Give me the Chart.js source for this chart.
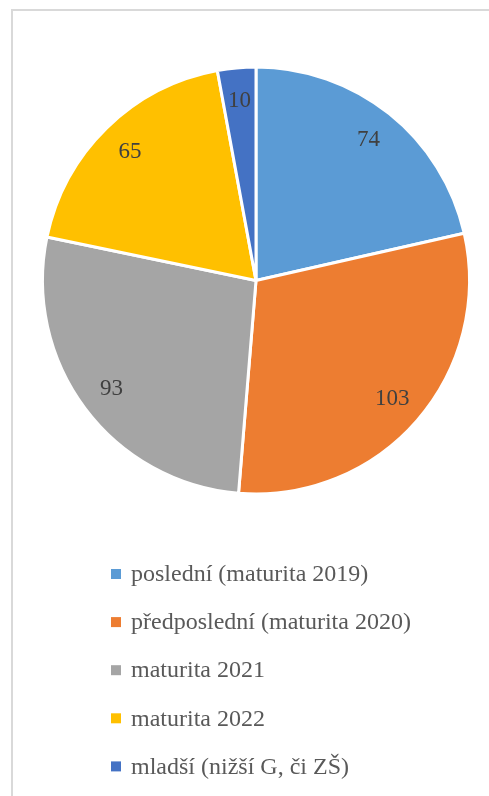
<!DOCTYPE html>
<html>
<head>
<meta charset="utf-8">
<script src="https://cdn.jsdelivr.net/npm/chart.js@4.4.1/dist/chart.umd.min.js"></script>
<style>
    html, body { margin: 0; padding: 0; background: #ffffff; overflow: hidden; }
    #frame {
        position: absolute; left: 11px; top: 9px;
        width: 600px; height: 900px;
        border: 2px solid #d9d9d9;
    }
    #wrap { position: absolute; left: 0; top: 0; width: 489px; height: 796px; }
</style>
</head>
<body>
<div id="frame"></div>
<div id="wrap"><canvas id="pieChart" width="489" height="796"></canvas></div>
<script>
const categories = [
    "poslední (maturita 2019)",
    "předposlední (maturita 2020)",
    "maturita 2021",
    "maturita 2022",
    "mladší (nižší G, či ZŠ)"
];
const counts = [74, 103, 93, 65, 10];
const sliceColors = ["#5b9bd5", "#ed7d31", "#a5a5a5", "#ffc000", "#4472c4"];

const FONT = "'Liberation Serif', 'Times New Roman', serif";

// value labels inside each slice
const sliceLabels = {
    id: "sliceLabels",
    afterDatasetsDraw(chart) {
        const ctx = chart.ctx;
        const meta = chart.getDatasetMeta(0);
        ctx.save();
        ctx.font = "23px " + FONT;
        ctx.fillStyle = "#404040";
        ctx.textAlign = "center";
        ctx.textBaseline = "middle";
        meta.data.forEach((arc, i) => {
            const mid = (arc.startAngle + arc.endAngle) / 2;
            const r = arc.outerRadius * 0.845;
            ctx.fillText(String(chart.data.datasets[0].data[i]),
                arc.x + Math.cos(mid) * r, arc.y + Math.sin(mid) * r);
        });
        ctx.restore();
    }
};

// one-per-row legend under the pie
const rowLegend = {
    id: "rowLegend",
    afterDraw(chart) {
        const ctx = chart.ctx;
        const colors = chart.data.datasets[0].backgroundColor;
        ctx.save();
        ctx.font = "24px " + FONT;
        ctx.textBaseline = "middle";
        ctx.textAlign = "left";
        chart.data.labels.forEach((label, i) => {
            const y = 574 + i * 48.1;
            ctx.fillStyle = colors[i];
            ctx.fillRect(111, y - 5, 10, 10);
            ctx.fillStyle = "#595959";
            ctx.fillText(label, 131, y + 1);
        });
        ctx.restore();
    }
};

new Chart(document.getElementById("pieChart").getContext("2d"), {
    type: "pie",
    data: {
        labels: categories,
        datasets: [{
            data: counts,
            backgroundColor: sliceColors,
            borderColor: "#ffffff",
            borderWidth: 3
        }]
    },
    options: {
        responsive: false,
        animation: false,
        layout: { padding: { left: 41, right: 18, top: 65, bottom: 300 } },
        plugins: {
            legend: { display: false },
            tooltip: { enabled: false }
        }
    },
    plugins: [sliceLabels, rowLegend]
});
</script>
</body>
</html>
